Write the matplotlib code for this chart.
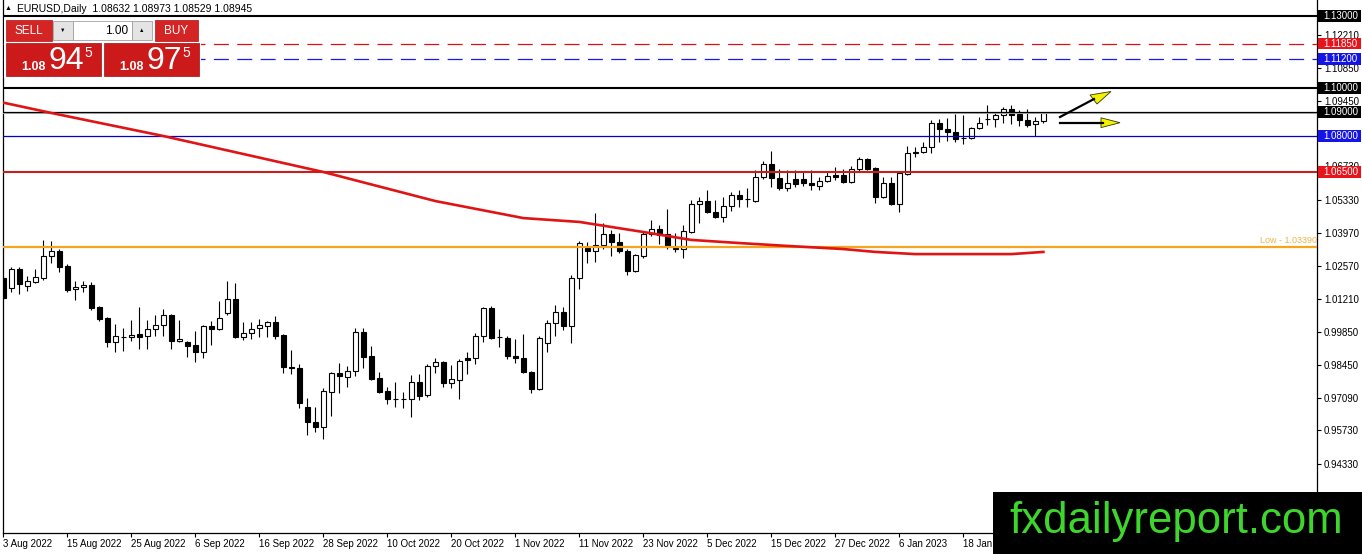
import matplotlib
matplotlib.use("Agg")
import matplotlib.pyplot as plt
from matplotlib.patches import Rectangle, Polygon
from matplotlib import transforms

plt.rcParams['font.family'] = ['Liberation Sans', 'DejaVu Sans']

# EURUSD daily bars, index 0 = 3 Aug 2022
opens = [1.0208, 1.0167, 1.0246, 1.0175, 1.0192, 1.0208, 1.0300, 1.0321, 1.0258, 1.0163,
         1.0171, 1.0179, 1.0088, 1.0042, 0.9942, 0.9962, 0.9963, 0.9975, 0.9967, 0.9996,
         1.0013, 1.0054, 0.9946, 0.9942, 0.9929, 0.9900, 1.0008, 0.9996, 1.0063, 1.0121,
         0.9963, 0.9979, 1.0000, 1.0008, 1.0025, 0.9971, 0.9838, 0.9833, 0.9671, 0.9608,
         0.9588, 0.9733, 0.9813, 0.9796, 0.9821, 0.9983, 0.9883, 0.9792, 0.9738, 0.9705,
         0.9704, 0.9704, 0.9775, 0.9721, 0.9842, 0.9858, 0.9771, 0.9783, 0.9875, 0.9875,
         0.9967, 1.0083, 0.9963, 0.9958, 0.9883, 0.9875, 0.9817, 0.9746, 0.9938, 1.0021,
         1.0067, 1.0008, 1.0208, 1.0333, 1.0321, 1.0346, 1.0392, 1.0358, 1.0321, 1.0238,
         1.0300, 1.0392, 1.0413, 1.0392, 1.0333, 1.0329, 1.0400, 1.0517, 1.0529, 1.0483,
         1.0463, 1.0508, 1.0554, 1.0538, 1.0529, 1.0629, 1.0683, 1.0625, 1.0583, 1.0621,
         1.0621, 1.0604, 1.0592, 1.0613, 1.0638, 1.0638, 1.0608, 1.0663, 1.0704, 1.0667,
         1.0546, 1.0604, 1.0517, 1.0642, 1.0729, 1.0734, 1.0754, 1.0854, 1.0829, 1.0817,
         1.0792, 1.0792, 1.0833, 1.0870, 1.0871, 1.0888, 1.0913, 1.0892, 1.0867, 1.0850,
         1.08632]
highs = [1.0217, 1.0254, 1.0254, 1.0217, 1.0246, 1.0367, 1.0363, 1.0329, 1.0267, 1.0196,
         1.0196, 1.0192, 1.0092, 1.0046, 1.0017, 1.0000, 1.0033, 1.0088, 1.0033, 1.0054,
         1.0079, 1.0058, 1.0033, 0.9944, 0.9988, 1.0013, 1.0029, 1.0113, 1.0196, 1.0188,
         1.0025, 1.0025, 1.0038, 1.0029, 1.0050, 0.9975, 0.9908, 0.9850, 0.9708, 0.9671,
         0.9750, 0.9817, 0.9854, 0.9842, 1.0000, 1.0000, 0.9925, 0.9817, 0.9754, 0.9775,
         0.9733, 0.9804, 0.9808, 0.9850, 0.9875, 0.9863, 0.9846, 0.9871, 0.9900, 0.9979,
         1.0088, 1.0092, 0.9996, 0.9967, 0.9954, 0.9975, 0.9819, 0.9967, 1.0033, 1.0096,
         1.0088, 1.0221, 1.0363, 1.0358, 1.0479, 1.0438, 1.0408, 1.0396, 1.0329, 1.0308,
         1.0400, 1.0450, 1.0429, 1.0496, 1.0396, 1.0429, 1.0533, 1.0546, 1.0575, 1.0533,
         1.0546, 1.0567, 1.0575, 1.0583, 1.0658, 1.0696, 1.0738, 1.0663, 1.0658, 1.0658,
         1.0654, 1.0658, 1.0629, 1.0650, 1.0671, 1.0663, 1.0675, 1.0713, 1.0708, 1.0671,
         1.0629, 1.0629, 1.0650, 1.0758, 1.0754, 1.0775, 1.0867, 1.0871, 1.0875, 1.0892,
         1.0888, 1.0838, 1.0879, 1.0929, 1.0900, 1.0921, 1.0929, 1.0908, 1.0913, 1.0879,
         1.08973]
lows = [1.0117, 1.0150, 1.0142, 1.0154, 1.0188, 1.0200, 1.0271, 1.0233, 1.0150, 1.0117,
        1.0150, 1.0075, 1.0029, 0.9921, 0.9900, 0.9904, 0.9946, 0.9912, 0.9912, 0.9967,
        0.9967, 0.9912, 0.9942, 0.9879, 0.9858, 0.9875, 0.9929, 0.9992, 1.0054, 0.9958,
        0.9950, 0.9954, 0.9963, 0.9963, 0.9954, 0.9813, 0.9808, 0.9667, 0.9554, 0.9567,
        0.9538, 0.9633, 0.9729, 0.9754, 0.9800, 0.9833, 0.9783, 0.9729, 0.9683, 0.9671,
        0.9667, 0.9629, 0.9700, 0.9713, 0.9813, 0.9754, 0.9750, 0.9704, 0.9808, 0.9850,
        0.9942, 0.9954, 0.9921, 0.9871, 0.9854, 0.9813, 0.9729, 0.9742, 0.9900, 0.9967,
        0.9992, 0.9938, 1.0163, 1.0271, 1.0275, 1.0329, 1.0300, 1.0313, 1.0221, 1.0233,
        1.0292, 1.0383, 1.0350, 1.0329, 1.0317, 1.0292, 1.0396, 1.0438, 1.0479, 1.0458,
        1.0442, 1.0488, 1.0504, 1.0504, 1.0525, 1.0621, 1.0588, 1.0575, 1.0571, 1.0588,
        1.0592, 1.0575, 1.0575, 1.0608, 1.0617, 1.0604, 1.0604, 1.0654, 1.0658, 1.0521,
        1.0542, 1.0513, 1.0483, 1.0638, 1.0713, 1.0729, 1.0729, 1.0775, 1.0779, 1.0775,
        1.0767, 1.0788, 1.0829, 1.0846, 1.0838, 1.0854, 1.0850, 1.0842, 1.0838, 1.0800,
        1.08529]
closes = [1.0125, 1.0246, 1.0183, 1.0196, 1.0213, 1.0300, 1.0321, 1.0254, 1.0158, 1.0171,
          1.0179, 1.0083, 1.0038, 0.9942, 0.9967, 0.9963, 0.9971, 0.9963, 0.9996, 1.0013,
          1.0054, 0.9946, 0.9954, 0.9925, 0.9900, 1.0008, 0.9996, 1.0042, 1.0121, 0.9963,
          0.9979, 0.9996, 1.0013, 1.0025, 0.9967, 0.9838, 0.9833, 0.9688, 0.9608, 0.9588,
          0.9738, 0.9813, 0.9800, 0.9821, 0.9983, 0.9879, 0.9788, 0.9733, 0.9704, 0.9704,
          0.9705, 0.9775, 0.9717, 0.9842, 0.9858, 0.9771, 0.9788, 0.9863, 0.9867, 0.9967,
          1.0083, 0.9958, 0.9962, 0.9883, 0.9875, 0.9817, 0.9746, 0.9958, 1.0021, 1.0067,
          1.0008, 1.0208, 1.0354, 1.0321, 1.0346, 1.0392, 1.0358, 1.0321, 1.0238, 1.0304,
          1.0392, 1.0413, 1.0388, 1.0342, 1.0329, 1.0404, 1.0517, 1.0529, 1.0483, 1.0463,
          1.0508, 1.0554, 1.0538, 1.0537, 1.0629, 1.0683, 1.0625, 1.0583, 1.0604, 1.0600,
          1.0604, 1.0596, 1.0613, 1.0633, 1.0629, 1.0608, 1.0663, 1.0704, 1.0663, 1.0546,
          1.0604, 1.0517, 1.0646, 1.0729, 1.0734, 1.0754, 1.0854, 1.0829, 1.0817, 1.0788,
          1.0793, 1.0833, 1.0854, 1.0871, 1.0888, 1.0913, 1.0888, 1.0867, 1.0846, 1.0863,
          1.08945]

# moving average read at some bars
ma_idx = [0, 6, 20, 40, 54, 65, 72, 80, 86, 92, 98, 105, 109, 114, 126, 130]
ma_val = [1.0939, 1.0896, 1.0800, 1.0650, 1.0529, 1.0458, 1.0442, 1.0400, 1.0367,
          1.0354, 1.0342, 1.0329, 1.0317, 1.0308, 1.0308, 1.0317]

date_idx = [0, 8, 16, 24, 32, 40, 48, 56, 64, 72, 80, 88, 96, 104, 112, 120]
date_lbl = ['3 Aug 2022', '15 Aug 2022', '25 Aug 2022', '6 Sep 2022', '16 Sep 2022',
            '28 Sep 2022', '10 Oct 2022', '20 Oct 2022', '1 Nov 2022', '11 Nov 2022',
            '23 Nov 2022', '5 Dec 2022', '15 Dec 2022', '27 Dec 2022', '6 Jan 2023',
            '18 Jan 2023']

price_ticks = [1.12210, 1.10850, 1.09450, 1.06730, 1.05330, 1.03970, 1.02570,
               1.01210, 0.99850, 0.98450, 0.97090, 0.95730, 0.94330]

# horizontal levels: price, colour, width, style, label box colour
levels = [(1.13000, 'black', 1.5, '-', 'black'),
          (1.11850, '#e01010', 0.9, 'dash', '#e8141c'),
          (1.11200, '#1818f0', 0.9, 'dash', '#1414e6'),
          (1.10000, 'black', 1.5, '-', 'black'),
          (1.09000, 'black', 0.9, '-', 'black'),
          (1.08000, '#0000c8', 0.9, '-', '#1414e6'),
          (1.06500, '#c81e1e', 1.5, '-', '#e8141c')]
low_level = 1.03390

W, H = 1362, 554
fig = plt.figure(figsize=(W / 100, H / 100), dpi=100)
ax = fig.add_axes([3 / W, 21 / H, 1314 / W, 533 / H])
ax.set_xlim(-0.04, 164.2)
ax.set_ylim(1.13667 - 533 / 2400, 1.13667)

# candles
n = len(opens)
for i in range(n):
    o, h, l, c = opens[i], highs[i], lows[i], closes[i]
    ax.vlines(i, l, h, color='black', lw=0.8, zorder=2)
    bull = c >= o
    hgt = max(abs(c - o), 0.00004)
    ax.bar(i, hgt, bottom=min(o, c), width=0.62, color='white' if bull else 'black',
           edgecolor='black', linewidth=0.8, zorder=2.2)

# levels
for p, col, lw, ls, _ in levels:
    if ls == 'dash':
        ax.axhline(p, color=col, lw=lw, dashes=(12, 6.7), zorder=3)
    else:
        ax.axhline(p, color=col, lw=lw, zorder=3)
ax.axhline(1.09 - 0.0004, color='#b0b0b0', lw=0.7, zorder=2.9)
ax.axhline(low_level, color='#f5a41e', lw=1.6, zorder=3)
bt = transforms.blended_transform_factory(ax.transAxes, ax.transData)
ax.text(1.0, low_level + 0.0006, 'Low - 1.03390', transform=bt,
        ha='right', va='bottom', fontsize=6.5, color='#f0b448', zorder=3)

ax.plot(ma_idx, ma_val, color='#e01414', lw=1.9, zorder=3.5)

# axes styling
ax.spines['top'].set_visible(False)
for s in ['left', 'right', 'bottom']:
    ax.spines[s].set_linewidth(0.9)
ax.yaxis.tick_right()
ax.set_yticks(price_ticks)
ax.set_yticklabels(['%.5f' % v for v in price_ticks])
ax.tick_params(axis='y', direction='out', length=3, width=0.8, pad=2, labelsize=7)
ax.set_xticks(date_idx)
ax.set_xticklabels(date_lbl)
for lab in ax.get_xticklabels():
    lab.set_horizontalalignment('left')
ax.tick_params(axis='x', direction='out', length=3, width=0.8, pad=1.5, labelsize=7)

for p, col, lw, ls, box in levels:
    ax.add_patch(Rectangle((1.0008, p - 0.0024), 0.0325, 0.0048, transform=bt,
                           facecolor=box, edgecolor='none', clip_on=False, zorder=5))
    ax.text(1.0046, p, '%.5f' % p, transform=bt, ha='left', va='center', fontsize=7,
            color='white', clip_on=False, zorder=6)

# overlay in pixel units for the terminal widgets
ov = fig.add_axes([0, 0, 1, 1], zorder=10)
ov.set_xlim(0, W)
ov.set_ylim(H, 0)
ov.axis('off')
ov.patch.set_visible(False)

ov.text(5, 9, '\u25b2', fontsize=5, va='center', ha='left', color='black')
ov.text(17, 9, 'EURUSD,Daily  1.08632 1.08973 1.08529 1.08945', fontsize=7.5,
        va='center', ha='left', color='black')

# trade panel
ov.add_patch(Rectangle((4, 18), 197, 60, facecolor='white', edgecolor='none'))
red = '#cc1a1a'
ov.add_patch(Rectangle((6, 20), 46, 21, facecolor='#d42424', edgecolor='#b01010', lw=0.5))
ov.text(29, 31, 'SELL', color='white', fontsize=8.5, ha='center', va='center')
ov.add_patch(Rectangle((155, 20), 43, 21, facecolor='#d42424', edgecolor='#b01010', lw=0.5))
ov.text(176.5, 31, 'BUY', color='white', fontsize=8.5, ha='center', va='center')
ov.add_patch(Rectangle((53, 21), 20, 19, facecolor='#e4e4e4', edgecolor='#a0a0a0', lw=0.6))
ov.add_patch(Rectangle((73, 21), 59, 19, facecolor='white', edgecolor='#a0a0a0', lw=0.6))
ov.add_patch(Rectangle((132, 21), 20, 19, facecolor='#e4e4e4', edgecolor='#a0a0a0', lw=0.6))
ov.text(63, 30.5, '\u25bc', fontsize=4, ha='center', va='center', color='black')
ov.text(142, 30.5, '\u25b2', fontsize=4, ha='center', va='center', color='black')
ov.text(128, 30.5, '1.00', fontsize=8.5, ha='right', va='center', color='black')

for x0, big in [(6, '94'), (104, '97')]:
    ov.add_patch(Rectangle((x0, 43), 95, 33, facecolor=red, edgecolor='#a01010', lw=0.5))
    ov.text(x0 + 15, 70, '1.08', color='white', fontsize=9, fontweight='bold',
            ha='left', va='baseline')
    ov.text(x0 + 42, 69, big, color='white', fontsize=23, ha='left', va='baseline')
    ov.text(x0 + 78, 57, '5', color='white', fontsize=10, ha='left', va='baseline')

# arrows
ov.plot([1060, 1094], [117, 99], color='black', lw=1.6)
ov.add_patch(Polygon([(1111, 91.5), (1090, 95), (1097, 104)], closed=True,
                     facecolor='#f2f200', edgecolor='#333300', lw=0.6))
ov.plot([1060, 1103], [122.5, 122.5], color='black', lw=1.6)
ov.add_patch(Polygon([(1120, 122.7), (1101, 117.8), (1101, 127.6)], closed=True,
                     facecolor='#f2f200', edgecolor='#333300', lw=0.6))

# watermark
ov.add_patch(Rectangle((993, 492), 369, 62, facecolor='black', edgecolor='none'))
ov.text(1009, 522, 'fxdailyreport.com', color='#3ed62c', fontsize=31.5,
        ha='left', va='center')

fig.savefig('out.png', dpi=100)
